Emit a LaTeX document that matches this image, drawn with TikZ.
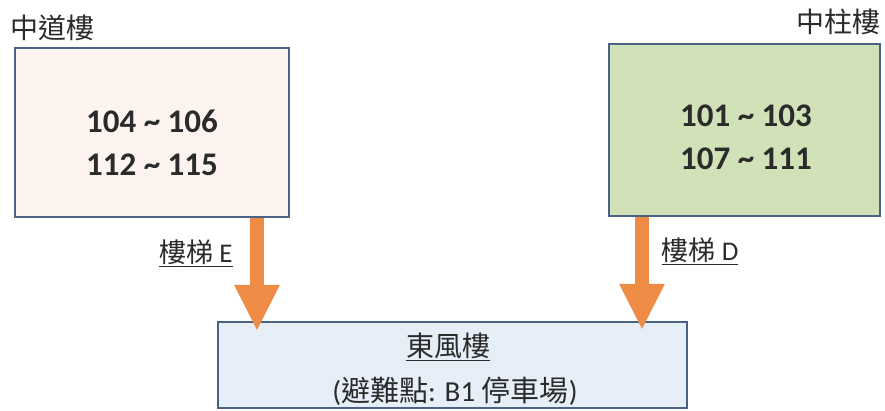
\documentclass[tikz,border=0pt]{standalone}
\usepackage{fontspec}
\setmainfont{Carlito}
\newfontfamily\cjk{Noto Sans CJK TC}
\usetikzlibrary{arrows.meta}

\definecolor{edgeblue}{HTML}{4A6283}
\definecolor{peach}{HTML}{FDF4F0}
\definecolor{sage}{HTML}{D2E2B8}
\definecolor{paleblue}{HTML}{E6EEF8}
\definecolor{stairorange}{HTML}{EE8B45}
\definecolor{ink}{HTML}{2B2B2B}

\newcommand\rooms[2]{#1 \textasciitilde{} #2}

\tikzset{
    hall/.style={draw=edgeblue, line width=1.6pt, inner sep=0pt},
    nums/.style={align=center, text=ink, font=\fontsize{33}{43}\selectfont\bfseries},
    title/.style={text=ink, font=\fontsize{28}{32}\selectfont\cjk},
    stairlabel/.style={text=ink, font=\fontsize{27}{30}\selectfont},
    stair/.style={draw=stairorange, line width=14pt, -{Triangle[width=42pt,length=46pt]}}
}

\begin{document}
\begin{tikzpicture}[x=1pt,y=-1pt]
        \useasboundingbox (0,0) rectangle (885,411);
        % the three buildings
        \node[hall, fill=peach, minimum width=274pt, minimum height=169pt] (zhongdao) at (152,132.5) {};
        \node[hall, fill=sage, minimum width=271pt, minimum height=172pt] (zhongzhu) at (744.5,130) {};
        \node[hall, fill=paleblue, minimum width=469pt, minimum height=86pt] (dongfeng) at (452.5,365) {};
        \node[nums] (zdrooms) at (152,142.5) {\rooms{104}{106}\\\rooms{112}{115}};
        \node[nums] (zzrooms) at (746,137) {\rooms{101}{103}\\\rooms{107}{111}};
        \node[title] (zdname) at (52,28) {中道樓};
        \node[title] (zzname) at (838,22) {中柱樓};
        \node[title] (dfname) at (448,347) {\underline{東風樓}};
        \node[stairlabel, font=\fontsize{29}{32}\selectfont] (dfnote) at (455,391) {({\cjk 避難點}: B1 {\cjk 停車場})};
        % stairs down
        \coordinate (tipE) at (257,331);
        \coordinate (tipD) at (642,330);
        \draw [stair] (zhongdao.south -| tipE) -- (tipE);
        \draw [stair] (zhongzhu.south -| tipD) -- (tipD);
        \node[stairlabel] (labE) at (196,253) {\underline{{\cjk 樓梯} E}};
        \node[stairlabel] (labD) at (700,251) {\underline{{\cjk 樓梯} D}};
    \end{tikzpicture}
\end{document}
